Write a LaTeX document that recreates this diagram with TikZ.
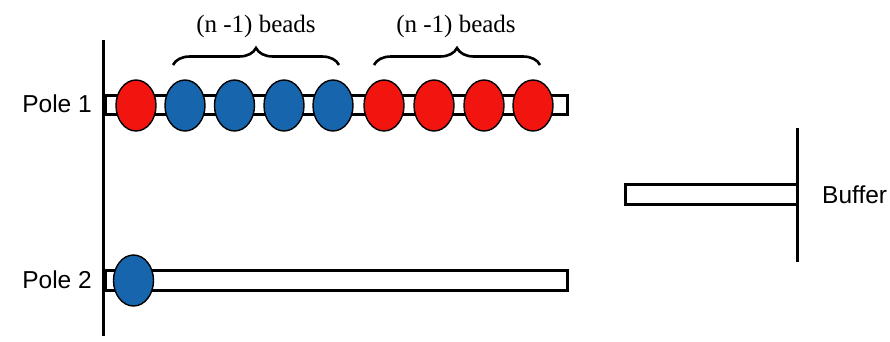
\documentclass[tikz,border=0pt]{standalone}
\usepackage{fontspec}
\setmainfont{Liberation Serif}
\setsansfont{Liberation Sans}
\usetikzlibrary{shapes.geometric,decorations.pathreplacing}
\definecolor{beadred}{HTML}{F2140F}
\definecolor{beadblue}{HTML}{1766AD}
\tikzset{
  bead/.style={ellipse, draw=black, line width=1.4pt, minimum width=40pt, minimum height=51pt, inner sep=0pt},
  redbead/.style={bead, fill=beadred},
  bluebead/.style={bead, fill=beadblue},
  rod/.style={draw=black, line width=3pt, fill=white},
  pole/.style={draw=black, line width=3pt},
  lbl/.style={font=\sffamily\fontsize{24.5}{26}\selectfont, inner sep=0pt},
  beadlbl/.style={font=\fontsize{25}{27}\selectfont, inner sep=0pt},
  brc/.style={draw=black, line width=2.6pt, decorate, decoration={brace, amplitude=17pt}}
}
\begin{document}
\begin{tikzpicture}[x=1pt,y=-1pt]
\useasboundingbox (0,0) rectangle (890,341);
% main pole
\draw[pole] (103,40) -- (103,336);
% rods
\draw[rod] (105,95.5) rectangle (567,114);
\draw[rod] (105,270) rectangle (567,290);
% pole 1 beads
\node[redbead]  (r1) at (136,105.5) {};
\node[bluebead] (b1) at (185,105.5) {};
\node[bluebead] (b2) at (234.5,105.5) {};
\node[bluebead] (b3) at (284,105.5) {};
\node[bluebead] (b4) at (333,105.5) {};
\node[redbead]  (r2) at (384,105.5) {};
\node[redbead]  (r3) at (434,105.5) {};
\node[redbead]  (r4) at (484,105.5) {};
\node[redbead]  (r5) at (533,105.5) {};
% pole 2 bead
\node[bluebead] (p2b) at (133.5,280.5) {};
% labels
\node[lbl, anchor=east] (l1) at (92,104) {Pole 1};
\node[lbl, anchor=east] (l2) at (92,280) {Pole 2};
% braces
\coordinate (br1a) at (173,65);
\coordinate (br1b) at (339,65);
\coordinate (br2a) at (374,65);
\coordinate (br2b) at (540,65);
\draw[brc] (br1a) -- (br1b);
\draw[brc] (br2a) -- (br2b);
\node[beadlbl] (t1) at (256,26) {(n -1) beads};
\node[beadlbl] (t2) at (456,26) {(n -1) beads};
% buffer
\draw[rod] (625,184) rectangle (797,204.5);
\draw[pole] (797,128) -- (797,262);
\node[lbl, anchor=west] (bl) at (822,195) {Buffer};
\end{tikzpicture}
\end{document}
